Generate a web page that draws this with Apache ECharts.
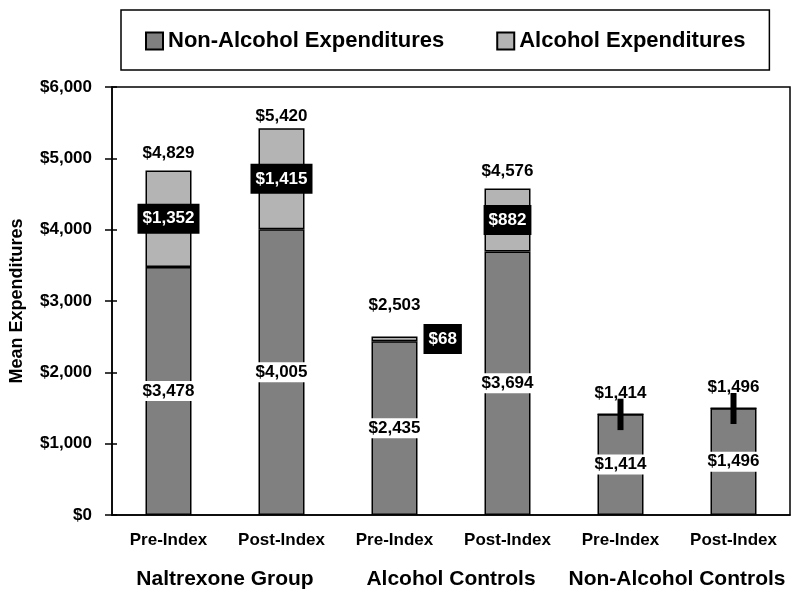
<!DOCTYPE html>
<html><head><meta charset="utf-8">
<script src="https://cdn.jsdelivr.net/npm/echarts@6/dist/echarts.min.js"></script>
<style>html,body{margin:0;padding:0;background:#fff}#c{width:800px;height:602px}</style>
</head><body><div id="c"></div>
<script>
const categories = ['Pre-Index','Post-Index','Pre-Index','Post-Index','Pre-Index','Post-Index'];
const groups = ['Naltrexone Group','Alcohol Controls','Non-Alcohol Controls'];
const nonAlcohol = [3478, 4005, 2435, 3694, 1414, 1496];
const alcohol = [1352, 1415, 68, 882, 0, 0];
const totals = [4829, 5420, 2503, 4576, 1414, 1496];
const errLow = [null, null, null, null, 1190, 1276];
const errHigh = [null, null, null, null, 1630, 1710];
const yTicks = [0, 1000, 2000, 3000, 4000, 5000, 6000];

const F = 'Liberation Sans, Arial, sans-serif';
const money = v => '$' + Math.round(v).toLocaleString('en-US');

const chart = echarts.init(document.getElementById('c'), null, {renderer:'canvas'});
const alcData = alcohol.map((v,i) => {
  const d = {value: v};
  if (v === 0) d.label = {show:false};
  else if (v < 200) d.label = {position:'right', distance:6};
  return d;
});
const totLabel = {show:true, position:'top', formatter:p => money(p.value[1]), color:'#000',
  fontSize:17, fontWeight:'bold', fontFamily:F, opacity:1};
const totDist = [8, 3, 22, 8, 12, 12];
const totData = totals.map((v,i) => ({value:[i, v], label:Object.assign({}, totLabel, {distance: totDist[i]})}));
const errData = errLow.map((v,i) => v == null ? null : [i, v, errHigh[i]]).filter(d => d);

chart.setOption({
  animation:false,
  textStyle:{fontFamily:F},
  grid:{left:110, right:10, top:87, bottom:87, show:true, borderColor:'#000', borderWidth:1.5, backgroundColor:'#fff'},
  legend:{
    left:121, top:10, padding:[20,24,18,24], borderColor:'#000', borderWidth:1.5,
    itemWidth:17, itemHeight:17, itemGap:52, icon:'rect',
    textStyle:{fontFamily:F, fontSize:22, fontWeight:'bold', color:'#000'},
    data:['Non-Alcohol Expenditures','Alcohol Expenditures']
  },
  xAxis:[
    {type:'category', data:categories, position:'bottom',
     axisLine:{lineStyle:{color:'#000', width:1.5}}, axisTick:{show:false},
     axisLabel:{color:'#000', fontSize:17, fontWeight:'bold', margin:17, fontFamily:F, interval:0}},
    {type:'category', data:groups, position:'bottom', offset:40,
     axisLine:{show:false}, axisTick:{show:false},
     axisLabel:{color:'#000', fontSize:21, fontWeight:'bold', margin:14, fontFamily:F, interval:0, hideOverlap:false}}
  ],
  yAxis:[
    {type:'value', min:0, max:6000, interval:1000,
     name:'Mean Expenditures', nameLocation:'middle', nameGap:86, nameRotate:90,
     nameTextStyle:{color:'#000', fontSize:18, fontWeight:'bold', fontFamily:F},
     axisLine:{show:true, lineStyle:{color:'#000', width:1.5}},
     axisTick:{show:true, length:7, lineStyle:{color:'#000', width:1.5}},
     splitLine:{show:false},
     axisLabel:{color:'#000', fontSize:17, fontWeight:'bold', margin:20, fontFamily:F,
       formatter: v => yTicks.includes(v) ? money(v) : ''}},
    {type:'value', min:0, max:6000, interval:1000, position:'left',
     axisLine:{show:false}, axisLabel:{show:false}, splitLine:{show:false},
     axisTick:{show:true, inside:true, length:5, lineStyle:{color:'#000', width:1.5}}}
  ],
  series:[
    {name:'Non-Alcohol Expenditures', type:'bar', stack:'t', data:nonAlcohol, barWidth:46,
     itemStyle:{color:'#808080', borderColor:'#000', borderWidth:1.5},
     label:{show:true, position:'inside', formatter:p => money(p.value), color:'#000',
       fontSize:17, fontWeight:'bold', fontFamily:F, backgroundColor:'#fff', padding:[2,3,1,3]}},
    {name:'Alcohol Expenditures', type:'bar', stack:'t', data:alcData, barWidth:46,
     itemStyle:{color:'#b4b4b4', borderColor:'#000', borderWidth:1.5},
     label:{show:true, position:'inside', formatter:p => money(p.value), color:'#fff',
       fontSize:17, fontWeight:'bold', fontFamily:F, backgroundColor:'#000', padding:[7,5,6,5]}},
    {type:'scatter', data:totData, symbolSize:1, silent:true,
     itemStyle:{color:'rgba(0,0,0,0)', opacity:1},
     label:totLabel, z:6},
    {type:'custom', data:errData, silent:true,
     renderItem:(params, api) => {
       const a = api.coord([api.value(0), api.value(1)]);
       const b = api.coord([api.value(0), api.value(2)]);
       return {type:'rect', shape:{x:a[0]-3, y:b[1], width:6, height:a[1]-b[1]}, style:{fill:'#000'}};
     }, z:5}
  ]
});
</script></body></html>
